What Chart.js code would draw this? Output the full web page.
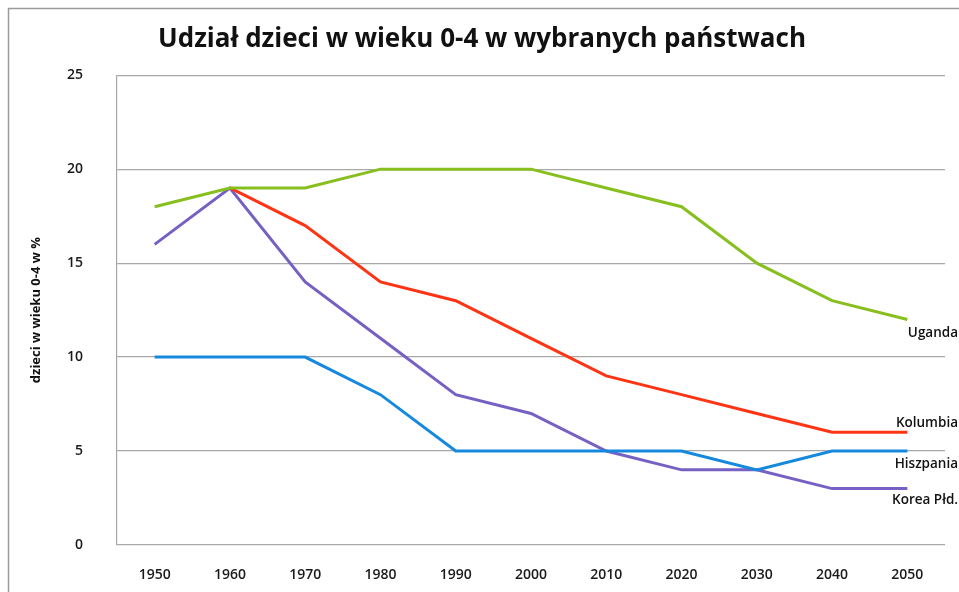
<!DOCTYPE html>
<html>
<head>
<meta charset="utf-8">
<script src="https://cdn.jsdelivr.net/npm/chart.js@4"></script>
<style>
    html, body { margin: 0; padding: 0; background: #fff; }
    #wrap { width: 959px; height: 592px; position: relative; }
</style>
</head>
<body>
<div id="wrap"><canvas id="childrenChart"></canvas></div>
<script>
// Years and shares of children aged 0-4 (%)
const years = ['1950', '1960', '1970', '1980', '1990', '2000', '2010', '2020', '2030', '2040', '2050'];
const uganda = [18, 19, 19, 20, 20, 20, 19, 18, 15, 13, 12];
const kolumbia = [null, 19, 17, 14, 13, 11, 9, 8, 7, 6, 6];
const hiszpania = [10, 10, 10, 8, 5, 5, 5, 5, 4, 5, 5];
const korea = [16, 19, 14, 11, 8, 7, 5, 4, 4, 3, 3];
const yTicks = [0, 5, 10, 15, 20, 25];

const seriesNames = ['Uganda', 'Kolumbia', 'Hiszpania', 'Korea Płd.'];

// label shift relative to the last point of each line
const endLabelShift = { 'Uganda': 14, 'Kolumbia': -9, 'Hiszpania': 13, 'Korea Płd.': 12 };

const endLabels = {
    id: 'endLabels',
    afterDatasetsDraw(chart) {
        const ctx = chart.ctx;
        ctx.save();
        ctx.font = '600 13.5px "Open Sans", sans-serif';
        ctx.fillStyle = '#111';
        ctx.textAlign = 'right';
        ctx.textBaseline = 'middle';
        chart.data.datasets.forEach((ds, i) => {
            const pts = chart.getDatasetMeta(i).data;
            const last = pts[pts.length - 1];
            ctx.fillText(ds.label, chart.width - 1, last.y + endLabelShift[ds.label]);
        });
        ctx.restore();
    }
};

const frame = {
    id: 'frame',
    beforeDraw(chart) {
        const ctx = chart.ctx;
        ctx.save();
        ctx.fillStyle = '#fff';
        ctx.fillRect(0, 0, chart.width, chart.height);
        ctx.strokeStyle = '#9a9a9a';
        ctx.lineWidth = 1.5;
        ctx.strokeRect(8.5, 8.5, chart.width + 20, chart.height + 20);
        ctx.restore();
    }
};

const ctx = document.getElementById('childrenChart').getContext('2d');
new Chart(ctx, {
    type: 'line',
    data: {
        labels: years,
        datasets: [
            { label: seriesNames[0], data: uganda, borderColor: '#86bf1e' },
            { label: seriesNames[1], data: kolumbia, borderColor: '#ff3414' },
            { label: seriesNames[2], data: hiszpania, borderColor: '#1789dd' },
            { label: seriesNames[3], data: korea, borderColor: '#7760c4' }
        ].map(d => Object.assign(d, { borderWidth: 3, pointRadius: 0, tension: 0, fill: false }))
    },
    options: {
        responsive: true,
        maintainAspectRatio: false,
        animation: false,
        layout: { padding: { left: 19, right: 14, top: 0, bottom: 0 } },
        scales: {
            x: {
                offset: true,
                grid: { display: false },
                border: { display: false },
                ticks: { color: '#1a1a1a', padding: 14, font: { family: '"Open Sans", sans-serif', size: 14, weight: '600' } },
                afterFit: (scale) => { scale.height = 47; }
            },
            y: {
                min: 0,
                max: 25,
                afterBuildTicks: (scale) => { scale.ticks = yTicks.map(v => ({ value: v })); },
                grid: { color: '#a8a8a8', lineWidth: 1.2, drawTicks: false },
                border: { display: true, color: '#a8a8a8', width: 1.2 },
                ticks: { color: '#1a1a1a', padding: 34, font: { family: '"Open Sans", sans-serif', size: 14, weight: '600' } },
                title: {
                    display: true,
                    text: 'dzieci w wieku 0-4 w %',
                    color: '#111',
                    padding: { top: 9, bottom: 0 },
                    font: { family: '"Open Sans", sans-serif', size: 13, weight: 'bold' }
                },
                afterFit: (scale) => { scale.width = 98; }
            }
        },
        plugins: {
            legend: { display: false },
            tooltip: { enabled: false },
            title: {
                display: true,
                text: 'Udział dzieci w wieku 0-4 w wybranych państwach',
                color: '#111',
                padding: { top: 24, bottom: 20 },
                font: { family: '"Open Sans", sans-serif', size: 26, weight: 'bold', lineHeight: 1.2 }
            }
        }
    },
    plugins: [frame, endLabels]
});
</script>
</body>
</html>
